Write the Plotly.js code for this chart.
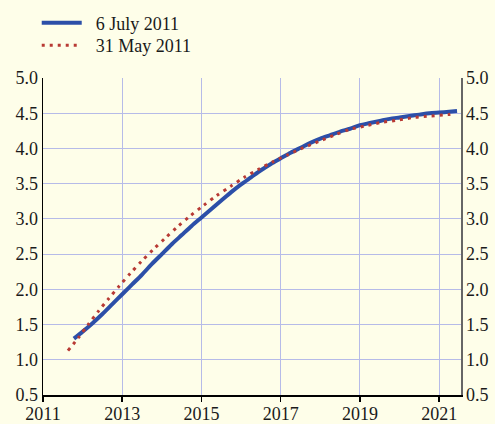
<!DOCTYPE html>
<html>
<head>
<meta charset="utf-8">
<script src="https://cdn.plot.ly/plotly-3.0.1.min.js"></script>
<style>html,body{margin:0;padding:0;background:#fefee9;}#chart{width:495px;height:424px;}</style>
</head>
<body>
<div id="chart"></div>
<script>
// 6 July 2011 curve
const julyYears = [2011.78,2012.0,2012.25,2012.5,2012.75,2013.0,2013.25,2013.5,2013.75,2014.0,2014.25,2014.5,2014.75,2015.0,2015.25,2015.5,2015.75,2016.0,2016.25,2016.5,2016.75,2017.0,2017.25,2017.5,2017.75,2018.0,2018.25,2018.5,2018.75,2019.0,2019.25,2019.5,2019.75,2020.0,2020.25,2020.5,2020.75,2021.0,2021.25,2021.45];
const julyValues = [1.30,1.40,1.52,1.65,1.79,1.93,2.07,2.21,2.36,2.50,2.64,2.77,2.90,3.02,3.14,3.26,3.38,3.49,3.59,3.69,3.78,3.86,3.94,4.01,4.08,4.14,4.19,4.24,4.28,4.33,4.36,4.39,4.42,4.44,4.46,4.48,4.50,4.51,4.52,4.53];
// 31 May 2011 curve
const mayYears = [2011.63,2011.89,2012.14,2012.40,2012.66,2012.93,2013.21,2013.49,2013.79,2014.09,2014.40,2014.71,2015.05,2015.38,2015.73,2016.08,2016.43,2016.80,2017.18,2017.57,2017.96,2018.36,2018.74,2019.14,2019.54,2019.94,2020.36,2020.79,2021.22,2021.32];
const mayValues = [1.13,1.31,1.50,1.69,1.87,2.05,2.23,2.40,2.57,2.73,2.89,3.04,3.19,3.33,3.46,3.59,3.70,3.81,3.91,4.01,4.10,4.19,4.27,4.32,4.37,4.40,4.44,4.46,4.48,4.49];
const xTicks = [2011,2013,2015,2017,2019,2021];
const yTicks = [0.5,1.0,1.5,2.0,2.5,3.0,3.5,4.0,4.5,5.0];
const seriesNames = ['6 July 2011','31 May 2011'];

const fam = '"Liberation Serif", "Times New Roman", serif';
const tickFont = {family:fam, size:18, color:'#1a1a1a'};
const legFont = {family:fam, size:18, color:'#1a1a1a'};
const NB = '\u00a0\u00a0';
const traces = [
  {x: julyYears, y: julyValues, name: NB + seriesNames[0], type:'scatter', mode:'lines', legend:'legend',
   line:{color:'#2c4fa8', width:4, shape:'spline', smoothing:0.8}},
  {x: mayYears, y: mayValues, name: NB + seriesNames[1], type:'scatter', mode:'lines', legend:'legend2',
   line:{color:'#b83a34', width:3, dash:'3px,5px', shape:'spline', smoothing:0.8}},
  {x: [2011,2021.5], y:[0.5,5.0], yaxis:'y2', type:'scatter', mode:'none', showlegend:false, hoverinfo:'skip'}
];
const legBase = {x:-0.015, xanchor:'left', yanchor:'top', bgcolor:'rgba(0,0,0,0)', font:legFont, itemwidth:40};
const layout = {
  width:495, height:424,
  paper_bgcolor:'#fefee9', plot_bgcolor:'#fefee9',
  margin:{l:43, r:34, t:78, b:29, autoexpand:false},
  font: tickFont,
  showlegend:true,
  legend:Object.assign({y:1.232}, legBase),
  legend2:Object.assign({y:1.161}, legBase),
  xaxis:{range:[2011,2021.55], tickvals:xTicks, ticktext:xTicks.map(String), showgrid:true, gridcolor:'#b6bbe8', gridwidth:1,
         showline:true, linecolor:'#000', linewidth:1.5, ticks:'outside', ticklen:5, tickcolor:'#000', tickwidth:1.5,
         ticklabelstandoff:-3, zeroline:false, tickfont:tickFont, fixedrange:true, automargin:false},
  yaxis:{range:[0.5,5.0], tickvals:yTicks, ticktext:yTicks.map(v=>v.toFixed(1)), showgrid:true, gridcolor:'#b6bbe8', gridwidth:1,
         showline:true, linecolor:'#000', linewidth:1.5, ticks:'', zeroline:false, tickfont:tickFont, fixedrange:true, automargin:false},
  yaxis2:{range:[0.5,5.0], tickvals:yTicks, ticktext:yTicks.map(v=>v.toFixed(1)), overlaying:'y', side:'right', showgrid:false,
          showline:true, linecolor:'#666', linewidth:1.5, ticks:'', zeroline:false, tickfont:tickFont, fixedrange:true, automargin:false}
};
Plotly.newPlot('chart', traces, layout, {displayModeBar:false, staticPlot:true});
</script>
</body>
</html>
